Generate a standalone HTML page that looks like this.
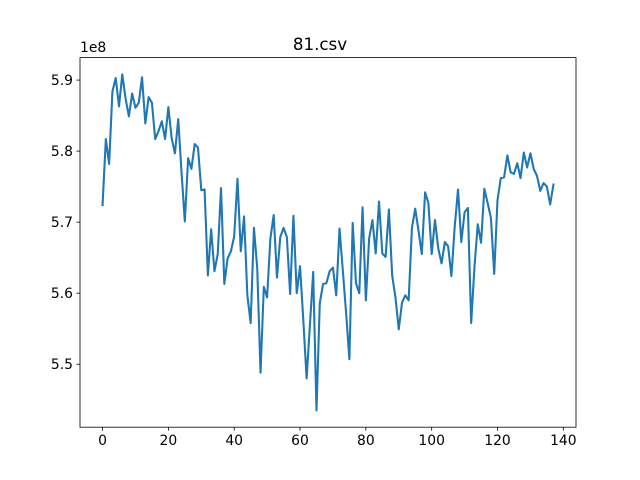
<!DOCTYPE html>
<html><head><meta charset="utf-8"><style>
body{margin:0;background:#fff}
svg{display:block;font-family:"DejaVu Sans","Liberation Sans",sans-serif}
</style></head><body>
<svg id="chart" width="640" height="480"></svg>
<script>
const xTicks=[0,20,40,60,80,100,120,140];
const yTicks=[5.5,5.6,5.7,5.8,5.9];
const yTickLabels=["5.5","5.6","5.7","5.8","5.9"];
const values=[5.724,5.817,5.782,5.884,5.903,5.863,5.908,5.874,5.849,5.881,
5.861,5.868,5.904,5.839,5.876,5.868,5.817,5.828,5.842,5.817,
5.862,5.818,5.797,5.845,5.77,5.701,5.790,5.775,5.810,5.805,
5.745,5.746,5.625,5.690,5.631,5.655,5.748,5.613,5.649,5.659,
5.680,5.761,5.659,5.708,5.597,5.558,5.692,5.635,5.488,5.609,
5.594,5.677,5.710,5.622,5.679,5.692,5.679,5.599,5.709,5.600,
5.638,5.562,5.480,5.555,5.630,5.435,5.586,5.613,5.614,5.631,
5.636,5.597,5.691,5.632,5.572,5.507,5.699,5.614,5.600,5.721,
5.590,5.677,5.703,5.656,5.729,5.656,5.651,5.718,5.625,5.594,
5.549,5.587,5.597,5.590,5.692,5.719,5.688,5.655,5.742,5.727,
5.655,5.703,5.663,5.642,5.672,5.666,5.624,5.694,5.746,5.672,
5.714,5.720,5.558,5.637,5.697,5.671,5.747,5.727,5.706,5.627,
5.731,5.762,5.763,5.794,5.770,5.768,5.783,5.762,5.798,5.777,
5.797,5.775,5.765,5.744,5.755,5.750,5.725,5.753];

const NS="http://www.w3.org/2000/svg";
const svg=document.getElementById('chart');
const L=80,R=576,T=57.6,B=427.2;
const n=values.length;
const xmin=-(n-1)*0.05, xmax=(n-1)*1.05;
const vmin=Math.min(...values), vmax=Math.max(...values), pad=(vmax-vmin)*0.05;
const ymin=vmin-pad, ymax=vmax+pad;
const sx=v=>L+(v-xmin)/(xmax-xmin)*(R-L);
const sy=v=>B-(v-ymin)/(ymax-ymin)*(B-T);
function mk(tag,attrs,parent){const e=document.createElementNS(NS,tag);for(const k in attrs)e.setAttribute(k,attrs[k]);(parent||svg).appendChild(e);return e;}

const title=mk('text',{x:320,y:50,'text-anchor':'middle','font-size':'16.7',fill:'#000'});


title.textContent='81.csv';

const off=mk('text',{x:80,y:52,'font-size':'13.9',fill:'#000'});


off.textContent='1e8';

xTicks.forEach(t=>{
  const x=sx(t);
  const g=mk('g',{});
  
  
  mk('line',{x1:x,x2:x,y1:B,y2:B+3.5,stroke:'#000','stroke-width':0.8},g);
  const tx=mk('text',{x:x,y:B+18,'text-anchor':'middle','font-size':'13.9',fill:'#000'},g);
  tx.textContent=String(t);
});
yTicks.forEach((t,i)=>{
  const y=sy(t);
  const g=mk('g',{});
  
  
  mk('line',{x1:L-3.5,x2:L,y1:y,y2:y,stroke:'#000','stroke-width':0.8},g);
  const tx=mk('text',{x:L-7,y:y+5,'text-anchor':'end','font-size':'13.9',fill:'#000'},g);
  tx.textContent=yTickLabels[i];
});

const pts=values.map((v,i)=>sx(i).toFixed(2)+','+sy(v).toFixed(2)).join(' ');
const line=mk('polyline',{points:pts,fill:'none',stroke:'#1f77b4','stroke-width':2.08,'stroke-linejoin':'round','stroke-linecap':'square'});



const frame=mk('rect',{x:L,y:T,width:R-L,height:B-T,fill:'none',stroke:'#000','stroke-width':0.8});


</script>
</body></html>
